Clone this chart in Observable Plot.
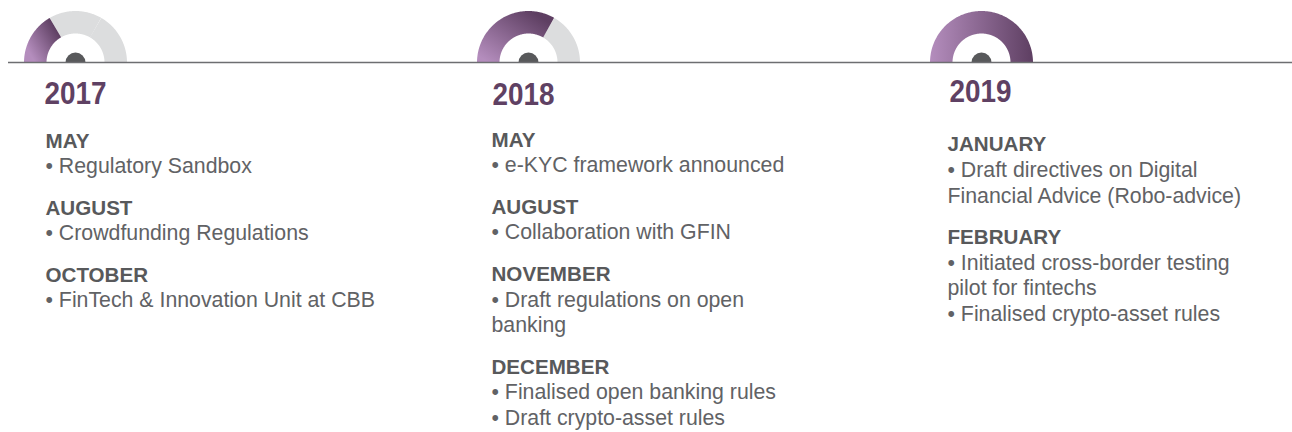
<!DOCTYPE html>
<html><head><meta charset="utf-8">
<script src="https://cdn.jsdelivr.net/npm/d3@7"></script>
<script src="https://cdn.jsdelivr.net/npm/@observablehq/plot@0.6"></script>
<style>html,body{margin:0;padding:0;background:#fff}svg{display:block}</style>
</head><body><div id="chart"></div>
<script>
const years = ["2017","2018","2019"];
const stepsDone = [1,2,3];
const stepsTotal = 3;
const centers = [75,528,981];
const yearLabelX = [44,492,949];
const yearLabelY = [103.5,104.5,101.5];
const headings = [
 {t:"MAY",x:45,y:147},{t:"AUGUST",x:45,y:214},{t:"OCTOBER",x:45,y:281},
 {t:"MAY",x:491,y:146},{t:"AUGUST",x:491,y:213},{t:"NOVEMBER",x:491,y:280},{t:"DECEMBER",x:491,y:373},
 {t:"JANUARY",x:947,y:150},{t:"FEBRUARY",x:947,y:243}
];
const bodyLines = [
 {t:"• Regulatory Sandbox",x:45,y:172},{t:"• Crowdfunding Regulations",x:45,y:239},{t:"• FinTech & Innovation Unit at CBB",x:45,y:306},
 {t:"• e-KYC framework announced",x:491,y:171},{t:"• Collaboration with GFIN",x:491,y:238},
 {t:"• Draft regulations on open",x:491,y:306},{t:"banking",x:491,y:331},
 {t:"• Finalised open banking rules",x:491,y:398},{t:"• Draft crypto-asset rules",x:491,y:424},
 {t:"• Draft directives on Digital",x:947,y:176},{t:"Financial Advice (Robo-advice)",x:947,y:202},
 {t:"• Initiated cross-border testing",x:947,y:269},{t:"pilot for fintechs",x:947,y:294},{t:"• Finalised crypto-asset rules",x:947,y:320}
];
const baseY = 62, outerR = 51.5, innerR = 29, hubR = 10;
const midR = (outerR+innerR)/2;
function arcPts(cx, f0, f1){
  const n = 90, pts = [];
  for(let i=0;i<=n;i++){
    const a = Math.PI*(f0+(f1-f0)*i/n);
    pts.push({x:cx-midR*Math.cos(a), y:baseY-midR*Math.sin(a)});
  }
  return pts;
}
const halfDisc = {draw(c,s){const r=Math.sqrt(s/Math.PI);c.moveTo(-r,0);c.arc(0,0,r,Math.PI,0);c.closePath();}};
const grad = (id,x1,x2,y1) => `<linearGradient id="${id}" x1="${x1}" y1="${y1}" x2="${x2}" y2="0"><stop offset="0" stop-color="#b48dbd"/><stop offset="1" stop-color="#5e3f62"/></linearGradient>`;
const defs = () => {
  const g = document.createElementNS("http://www.w3.org/2000/svg","g");
  g.innerHTML = `<defs>${grad("g0",0,1,1)}${grad("g1",0,1,1)}${grad("g2",-0.14,1.14,0)}</defs>`;
  return g;
};
const marks = [defs];
years.forEach((y,i)=>{
  for(let s=0;s<stepsTotal;s++){
    if(s>=stepsDone[i]) marks.push(Plot.line(arcPts(centers[i],s/stepsTotal,(s+1)/stepsTotal),{x:"x",y:"y",stroke:"#dcddde",strokeWidth:outerR-innerR,strokeLinecap:"butt",strokeLinejoin:"round"}));
  }
  marks.push(Plot.line(arcPts(centers[i],0,stepsDone[i]/stepsTotal),{x:"x",y:"y",stroke:`url(#g${i})`,strokeWidth:outerR-innerR,strokeLinecap:"butt",strokeLinejoin:"round"}));
});
marks.push(Plot.dot(centers,{x:d=>d,y:()=>baseY,r:hubR,symbol:halfDisc,fill:"#58595b",stroke:"none"}));
marks.push(Plot.ruleY([baseY],{x1:8,x2:1292,stroke:"#6d6e71",strokeWidth:1.6}));
const ff = "Liberation Sans, Arial, sans-serif";
marks.push(Plot.text(years,{x:(d,i)=>yearLabelX[i],y:(d,i)=>yearLabelY[i],text:d=>d,textAnchor:"start",lineAnchor:"bottom",fontFamily:ff,fontWeight:700,fontSize:31,fill:"#5f4163",className:"year"}));
marks.push(Plot.text(headings,{x:"x",y:"y",text:"t",textAnchor:"start",lineAnchor:"bottom",fontFamily:ff,fontWeight:700,fontSize:20.6,fill:"#58595b"}));
marks.push(Plot.text(bodyLines,{x:"x",y:"y",text:"t",textAnchor:"start",lineAnchor:"bottom",fontFamily:ff,fontSize:21.3,fill:"#616265"}));
const svg = Plot.plot({
  width:1292,height:432,margin:0,
  x:{type:"identity"},y:{type:"identity"},
  axis:null,
  marks
});
d3.select(svg).selectAll(".year text").attr("textLength",62).attr("lengthAdjust","spacingAndGlyphs");
document.getElementById("chart").append(svg);
</script></body></html>
